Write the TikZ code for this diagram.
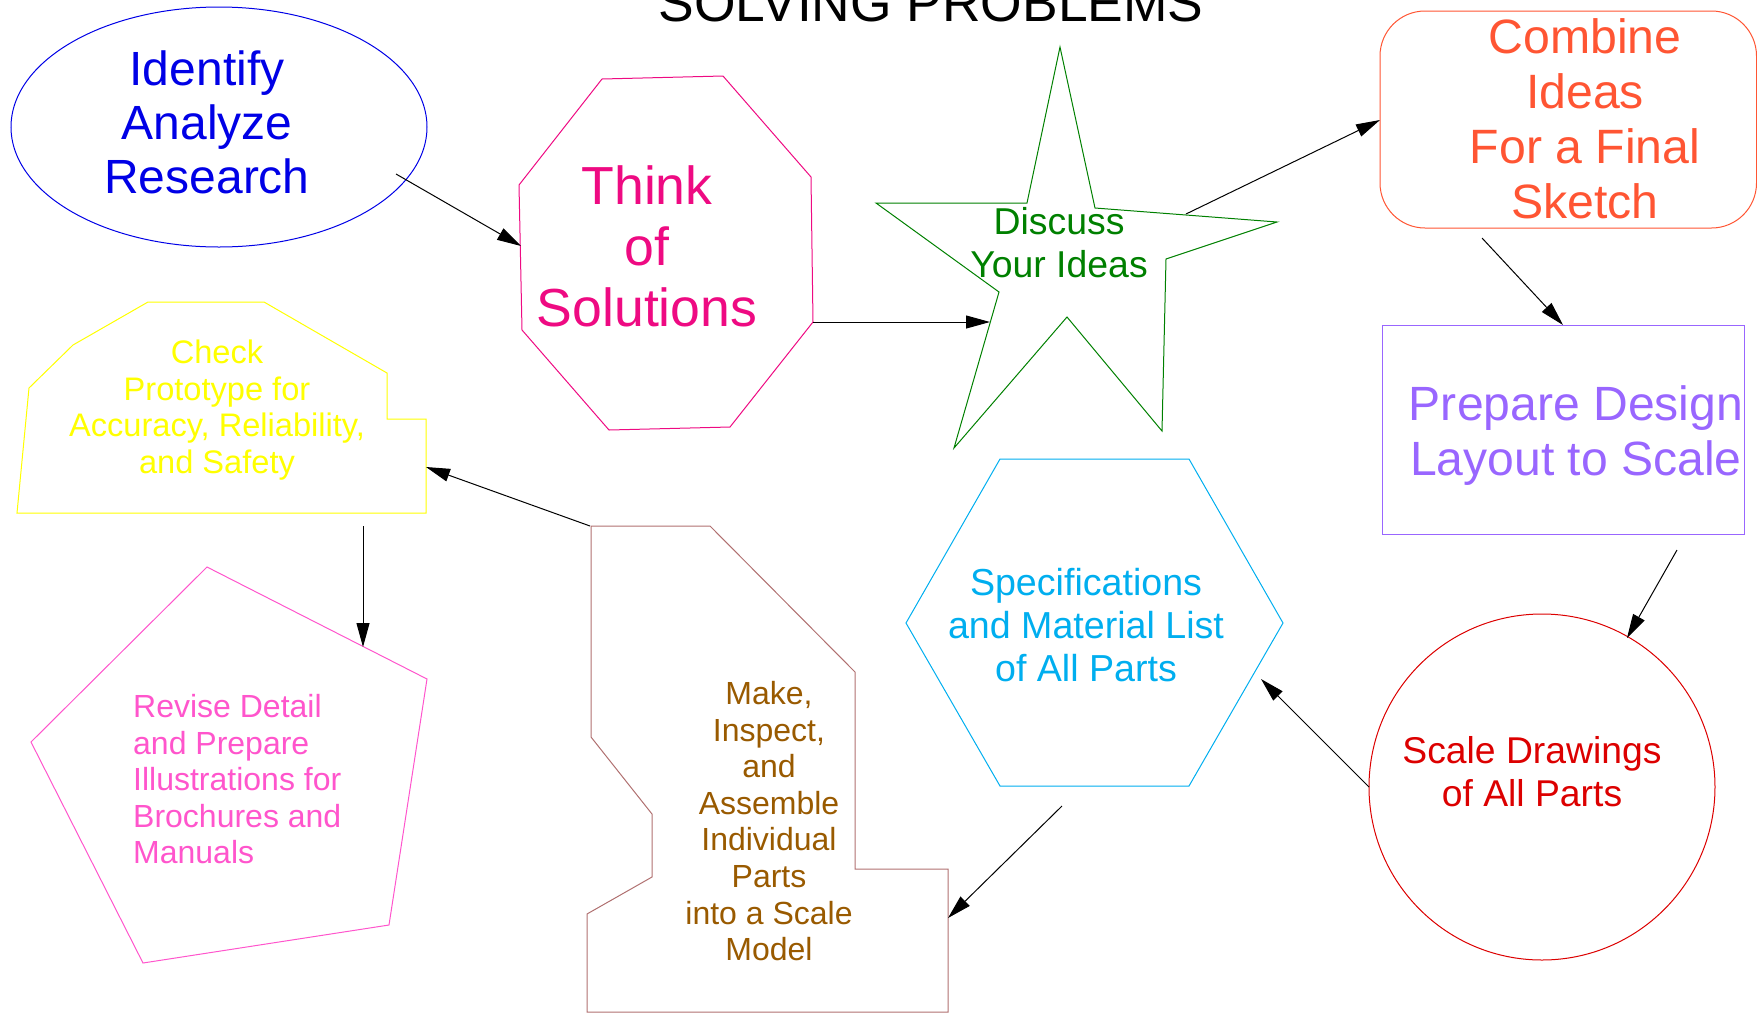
\documentclass[tikz,border=0pt]{standalone}
\usepackage{fontspec}
\setmainfont{Liberation Sans}
\usetikzlibrary{arrows.meta}

\definecolor{idblue}{RGB}{0,0,230}
\definecolor{thinkpink}{RGB}{238,10,130}
\definecolor{discgreen}{RGB}{0,128,0}
\definecolor{combred}{RGB}{255,85,51}
\definecolor{prepviolet}{RGB}{153,102,255}
\definecolor{scalered}{RGB}{220,0,0}
\definecolor{speccyan}{RGB}{0,174,239}
\definecolor{makebrown}{RGB}{153,90,0}
\definecolor{makeline}{RGB}{176,112,112}
\definecolor{checkyellow}{RGB}{255,255,0}
\definecolor{revpink}{RGB}{255,85,204}

\newcommand{\fsz}[2]{\fontsize{#1pt}{#2pt}\selectfont}

\tikzset{
  outline/.style={line width=1pt},
  txt/.style={align=center, inner sep=0pt, anchor=north},
  flow/.style={-{Triangle[length=24pt,width=13pt]}, line width=1pt, black},
}

\begin{document}
\begin{tikzpicture}[x=1pt,y=-1pt]
\useasboundingbox (0,0) rectangle (1757,1013);

\node[txt, font=\fsz{53.4}{60}] (title) at (931,-16.2) {SOLVING PROBLEMS};

\draw[idblue, outline] (219,127) ellipse [x radius=208, y radius=120];
\node[txt, idblue, font=\fsz{48}{54}] (identify) at (207,50.6) {Identify\\Analyze\\Research};

\draw[thinkpink, outline] (602,79) -- (723,76) -- (811,177) -- (813,322) -- (730,427) -- (609,430) -- (522,330) -- (519,185) -- cycle;
\node[txt, thinkpink, font=\fsz{53.6}{61}] (think) at (647,165.6) {Think\\of\\Solutions};

\draw[discgreen, outline] (1060,47) -- (1095,208) -- (1277,222) -- (1166,259) -- (1162,431) -- (1067,317) -- (954,448) -- (999,292) -- (876,203) -- (1027,203) -- cycle;
\node[txt, discgreen, font=\fsz{37.4}{43}] (discuss) at (1059,207.2) {Discuss\\Your Ideas};

\draw[combred, outline, rounded corners=45pt] (1380,11) rectangle (1756.5,228);
\node[txt, combred, font=\fsz{48.2}{55}] (combine) at (1585,18.5) {Combine\\Ideas\\For a Final\\Sketch};

\draw[prepviolet, outline] (1382,325) rectangle (1744,534);
\node[txt, prepviolet, font=\fsz{48.1}{55}] (prepare) at (1576,385.6) {Prepare Design\\Layout to Scale};

\draw[scalered, outline] (1542,787) circle [radius=173];
\node[txt, scalered, font=\fsz{37.3}{43}] (scale) at (1532,736.3) {Scale Drawings\\of All Parts};

\draw[speccyan, outline] (1000,459) -- (1189,459) -- (1283,623) -- (1189,786) -- (1000,786) -- (906,623) -- cycle;
\node[txt, speccyan, font=\fsz{37.6}{43}] (spec) at (1086,568.1) {Specifications\\and Material List\\of All Parts};

\draw[makeline, outline] (591,526) -- (710,526) -- (855,672) -- (855,869) -- (948,869) -- (948,1012) -- (587,1012) -- (587,914) -- (652,877) -- (652,814) -- (591,737) -- cycle;
\node[txt, makebrown, font=\fsz{32}{36.6}] (make) at (769,681.1) {Make,\\Inspect,\\and\\Assemble\\Individual\\Parts\\into a Scale\\Model};

\draw[checkyellow, outline] (17,513) -- (29,388) -- (73,345) -- (148,302) -- (264,302) -- (387,373) -- (387,419) -- (426,419) -- (426,513) -- cycle;
\node[txt, checkyellow, font=\fsz{32.6}{36.7}] (check) at (217,339.7) {Check\\Prototype for\\Accuracy, Reliability,\\and Safety};

\draw[revpink, outline] (207,567) -- (427,679) -- (389,925) -- (143,963) -- (31,742) -- cycle;
\node[txt, revpink, align=left, anchor=north west, font=\fsz{32}{36.5}] (revise) at (133,694.1) {Revise Detail\\and Prepare\\Illustrations for\\Brochures and\\Manuals};

\coordinate (identify-out) at (396,174);
\coordinate (think-in) at (521,246);
\coordinate (think-out) at (813,322);
\coordinate (discuss-in) at (990,322);
\coordinate (discuss-out) at (1186,214);
\coordinate (combine-in) at (1380,120);
\coordinate (combine-out) at (1482,238);
\coordinate (prepare-in) at (1563,325);
\coordinate (prepare-out) at (1677,550);
\coordinate (scale-in) at (1627,638);
\coordinate (scale-out) at (1369,787);
\coordinate (spec-in) at (1261,679);
\coordinate (spec-out) at (1062,806);
\coordinate (make-in) at (948,918);
\coordinate (make-out) at (590,526);
\coordinate (check-in) at (426,467);
\coordinate (check-out) at (363,526);
\coordinate (revise-in) at (363,647);

\draw[flow] (identify-out) -- (think-in);
\draw[flow] (think-out) -- (discuss-in);
\draw[flow] (discuss-out) -- (combine-in);
\draw[flow] (combine-out) -- (prepare-in);
\draw[flow] (prepare-out) -- (scale-in);
\draw[flow] (scale-out) -- (spec-in);
\draw[flow] (spec-out) -- (make-in);
\draw[flow] (make-out) -- (check-in);
\draw[flow] (check-out) -- (revise-in);
\end{tikzpicture}
\end{document}
